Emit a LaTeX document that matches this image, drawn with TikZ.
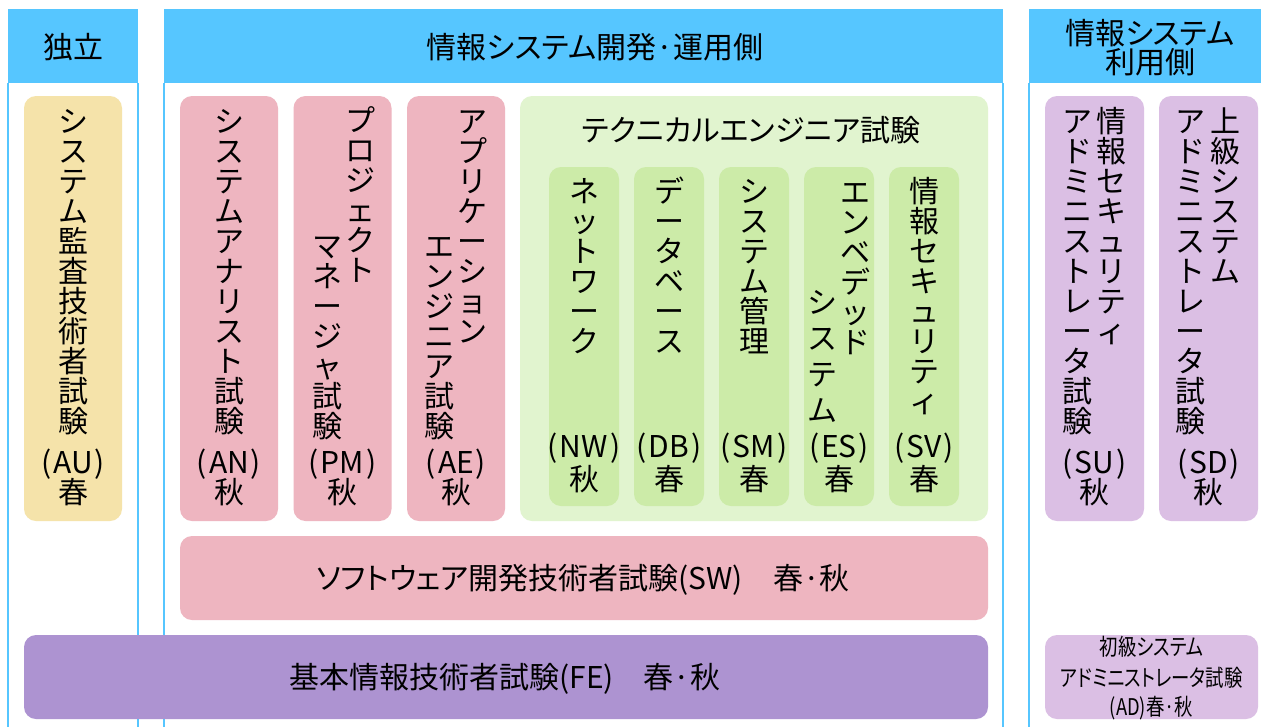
\documentclass[tikz,border=0pt]{standalone}
\usepackage{fontspec}
\newfontfamily\jp{Noto Sans CJK JP}
\newfontfamily\jpp[RawFeature=+palt]{Noto Sans CJK JP}
\usepackage{xcolor}
\definecolor{m_sky}{HTML}{56C6FF}
\definecolor{m_cream}{HTML}{F5E3AA}
\definecolor{m_pink}{HTML}{EEB5C0}
\definecolor{m_lime}{HTML}{E1F4CF}
\definecolor{m_leaf}{HTML}{CCEBA8}
\definecolor{m_violet}{HTML}{AD93D1}
\definecolor{m_lilac}{HTML}{DBBFE4}
\usepackage{tikz}
% one character per line, for vertical columns
\newcommand\tatechar[1]{\hbox to 1em{\hss#1\hss}}
\ExplSyntaxOn
\NewDocumentCommand\tate{O{30pt}m}
  {\vtop{\baselineskip=#1\lineskiplimit=-\maxdimen\lineskip=0pt
   \tl_map_function:nN{#2}\tatechar}}
\ExplSyntaxOff
\newcommand\kakko[1]{(\kern2pt#1\kern2pt)}

\begin{document}
\begin{tikzpicture}[
        x=1pt,y=-1pt,
        every node/.style={inner sep=0pt},
        txt/.style={anchor=base,yshift=-11.4pt,font=\jp\fontsize{30}{30}\selectfont},
        adtxt/.style={anchor=base,yshift=-8.7pt,xscale=.8,font=\jpp\fontsize{23}{23}\selectfont},
        hdr/.style 2 args={fill=m_sky,draw=m_sky,line width=1.8pt,minimum width=#1pt,minimum height=#2pt},
        exam/.style 2 args={rounded corners=12pt,minimum width=#1pt,minimum height=#2pt},
        frame/.style={draw=m_sky,line width=1.8pt}]
    \useasboundingbox[fill=white] (0,0) rectangle (1261,726);

    % column heads and frames
    \node[hdr={128}{72}] (H1) at (73,46) {};
    \node[hdr={837}{72}] (H2) at (583.5,46) {};
    \node[hdr={240}{72}] (H3) at (1150,46) {};
    \foreach \h in {H1,H2,H3}
        \draw[frame] (\h.south west) -- +(0,660) (\h.south east) -- +(0,660);
    \node[txt] (H1-t) at (73,47) {独立};
    \node[txt] (H2-t) at (595,47) {\jpp 情報システム開発·運用側};
    \node[txt] (H3-a) at (1150,33) {\jpp 情報システム};
    \node[txt] (H3-b) at (1150,62) {利用側};

    % independent
    \node[exam={98}{425},fill=m_cream] (AU) at (73,308.5) {};
    \node[txt] (AU-t) at (73,121) {\tate{システム監査技術者試験}};
    \node[txt] (AU-c) at (73,462) {\kakko{AU}};
    \node[txt] (AU-k) at (73,492.5) {春};

    % development side
    \foreach \n/\x in {AN/229,PM/342.5,AE/456}{
        \node[exam={98}{425},fill=m_pink] (\n) at (\x,308.5) {};
        \node[txt] (\n-c) at (\x,462) {\kakko{\n}};
        \node[txt] (\n-k) at (\x,492.5) {秋};
    }
    \node[txt] (AN-t) at (229,121) {\tate{システムアナリスト試験}};
    \node[txt] (PM-a) at (360,120) {\tate{プロジェクト}};
    \node[txt] (PM-b) at (327,246) {\tate{マネージャ試験}};
    \node[txt] (AE-a) at (472,121) {\tate{アプリケーション}};
    \node[txt] (AE-b) at (439,246) {\tate{エンジニア試験}};

    \node[exam={468}{425},fill=m_lime] (TE) at (754,308.5) {};
    \node[txt] (TE-t) at (751,130) {\jpp テクニカルエンジニア試験};
    \foreach \n/\x/\k in {NW/584/秋,DB/669/春,SM/754/春,ES/839/春,SV/924/春}{
        \node[exam={70}{339},fill=m_leaf] (\n) at (\x,336.5) {};
        \node[txt] (\n-c) at (\x,446) {\kakko{\n}};
        \node[txt] (\n-k) at (\x,479.5) {\k};
    }
    \node[txt] (NW-t) at (584,191) {\tate{ネットワーク}};
    \node[txt] (DB-t) at (669,191) {\tate{データベース}};
    \node[txt] (SM-t) at (754,191) {\tate{システム管理}};
    \node[txt] (ES-a) at (855,192) {\tate{エンベデッド}};
    \node[txt] (ES-b) at (822,302) {\tate[36pt]{システム}};
    \node[txt] (SV-t) at (924,191) {\tate{情報セキュリティ}};

    \node[exam={808}{84},fill=m_pink] (SW) at (584,578) {};
    \node[txt] (SW-t) at (583,578) {\jpp ソフトウェア開発技術者試験(SW)　春·秋};
    \node[exam={964}{84},fill=m_violet] (FE) at (506,677) {};
    \node[txt] (FE-t) at (505,677) {\jpp 基本情報技術者試験(FE)　春·秋};

    % user side
    \foreach \n/\x in {SU/1094.5,SD/1208.5}{
        \node[exam={99}{425},fill=m_lilac] (\n) at (\x,308.5) {};
        \node[txt] (\n-c) at (\x,462) {\kakko{\n}};
        \node[txt] (\n-k) at (\x,492.5) {秋};
    }
    \node[txt] (SU-a) at (1111,121) {\tate{情報セキュリティ}};
    \node[txt] (SU-b) at (1077,121) {\tate{アドミニストレータ試験}};
    \node[txt] (SD-a) at (1225,121) {\tate{上級システム}};
    \node[txt] (SD-b) at (1190,121) {\tate{アドミニストレータ試験}};

    \node[exam={213}{84},fill=m_lilac] (AD) at (1151.5,677) {};
    \node[adtxt] (AD-a) at (1151.5,647) {初級システム};
    \node[adtxt] (AD-b) at (1151.5,677.5) {アドミニストレータ試験};
    \node[adtxt] (AD-c) at (1151.5,707) {(AD)春·秋};
\end{tikzpicture}
\end{document}
